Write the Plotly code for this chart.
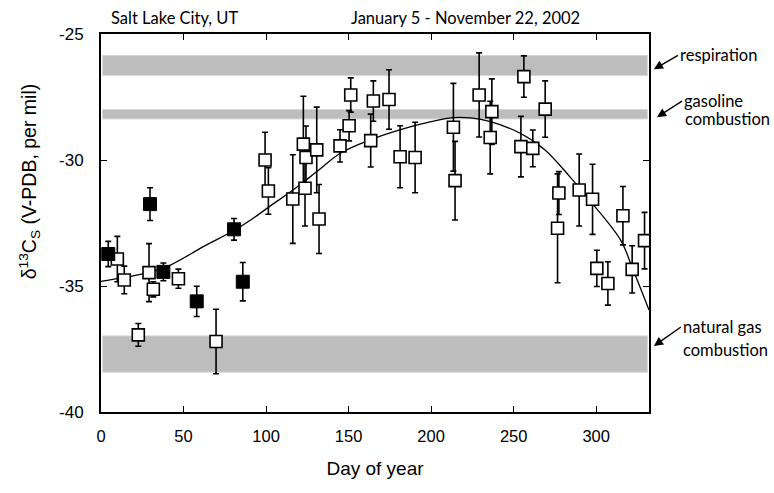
import plotly.graph_objects as go

# ---- data ----
# filled (black) squares
filled_day = [4.4, 29.7, 37.8, 58.0, 80.6, 85.9]
filled_val = [-33.73, -31.75, -34.44, -35.61, -32.75, -34.83]
filled_err = [0.5, 0.65, 0.35, 0.6, 0.43, 0.76]

# open squares
open_day = [9.9, 14.1, 22.6, 29.1, 31.7, 46.9, 69.7, 99.4, 101.4, 116.2,
            122.6, 124.2, 123.6, 130.7, 132.1, 144.8, 150.3, 151.3, 163.4, 165.0,
            174.5, 181.2, 190.3, 213.5, 214.5, 229.1, 236.8, 235.8, 256.2, 254.4,
            261.6, 269.1, 277.4, 276.6, 289.7, 297.8, 300.4, 307.1, 316.2, 321.8,
            329.3]
open_val = [-33.93, -34.76, -36.94, -34.47, -35.13, -34.71, -37.2, -30.0, -31.23, -31.55,
            -29.37, -29.9, -31.12, -29.6, -32.34, -29.44, -28.64, -27.42, -29.23, -27.66,
            -27.6, -29.87, -29.9, -28.7, -30.82, -27.42, -28.08, -29.11, -26.69, -29.47,
            -29.54, -27.98, -31.31, -32.71, -31.19, -31.56, -34.3, -34.9, -32.21, -34.34,
            -33.2]
open_err = [0.9, 0.55, 0.45, 1.15, 0.3, 0.38, 1.28, 1.1, 0.92, 1.76,
            1.9, 1.25, 1.5, 1.7, 1.37, 0.64, 0.6, 0.68, 1.05, 0.8,
            1.18, 1.23, 1.4, 1.74, 1.56, 1.67, 1.3, 1.44, 0.82, 1.2,
            0.73, 1.12, 0.85, 2.16, 1.43, 1.39, 0.72, 0.86, 1.16, 0.94,
            1.12]

# fitted seasonal curve
curve_day = [0, 15, 30, 42, 62, 81, 92, 102, 118.6, 130, 145, 163, 181, 200,
             213, 224, 236, 254, 269, 284, 298, 315, 322, 332]
curve_val = [-34.82, -34.65, -34.45, -34.17, -33.44, -32.78, -32.32, -31.85, -31.08,
             -30.5, -29.73, -29.2, -28.8, -28.48, -28.32, -28.33, -28.48, -28.94,
             -29.6, -30.66, -31.75, -33.2, -34.3, -35.95]

# source bands (low, high)
band_first_line = ["respiration", "gasoline", "natural gas"]
band_second_line = ["", "combustion", "combustion"]
band_low = [-26.65, -28.37, -38.42]
band_high = [-25.85, -28.0, -36.98]

x_ticks = [0, 50, 100, 150, 200, 250, 300]
y_ticks = [-25, -30, -35, -40]
y_ticktext = ["-25", "-30", "-35", "-40"]

AX_FONT = "Liberation Sans, Arial, sans-serif"
TXT_FONT = "Lato, Open Sans, sans-serif"

fig = go.Figure()

fig.add_trace(go.Scatter(x=curve_day, y=curve_val, mode="lines",
                         line=dict(color="black", width=1.3, shape="spline", smoothing=1.0),
                         hoverinfo="skip", showlegend=False))

fig.add_trace(go.Scatter(x=open_day, y=open_val, mode="markers",
                         error_y=dict(type="data", array=open_err, color="black",
                                      thickness=1.6, width=3),
                         marker=dict(symbol="square", size=12, color="white",
                                     line=dict(color="black", width=1.6)),
                         showlegend=False))

fig.add_trace(go.Scatter(x=filled_day, y=filled_val, mode="markers",
                         error_y=dict(type="data", array=filled_err, color="black",
                                      thickness=1.6, width=3),
                         marker=dict(symbol="square", size=13, color="black",
                                     line=dict(color="black", width=1)),
                         showlegend=False))

shapes = []
for lo, hi in zip(band_low, band_high):
    shapes.append(dict(type="rect", xref="paper", yref="y", x0=0.003, x1=0.997,
                       y0=lo, y1=hi, fillcolor="#bdbdbd",
                       line=dict(color="#d6d6d6", width=1), layer="below"))

TF = dict(family=TXT_FONT, size=16.5, color="black")
annotations = [
    dict(text="Salt Lake City, UT", xref="paper", yref="paper", x=0.014, y=1.0,
         xanchor="left", yanchor="bottom", yshift=4, showarrow=False,
         font=dict(family=TXT_FONT, size=16.5, color="black")),
    dict(text="January 5 - November 22, 2002", xref="paper", yref="paper", x=0.452, y=1.0,
         xanchor="left", yanchor="bottom", yshift=4, showarrow=False,
         font=dict(family=TXT_FONT, size=16.5, color="black")),
    # y-axis title
    dict(text="δ<sup>13</sup>C<sub>S</sub> (V-PDB, per mil)", xref="paper", yref="paper",
         x=-0.131, y=0.611, xanchor="center", yanchor="middle", textangle=-90,
         showarrow=False, font=dict(family=AX_FONT, size=19.5, color="black")),
]

# arrow heads (paper x, data y), tail offsets (px), second-line positions
head_x = [1.009, 1.0146, 1.009]
head_y = [-26.4, -28.30, -37.38]
tail_ax = [24, 25, 27]
tail_ay = [-14, -16, -19]
second_x = [1.0, 1.062, 1.058]
second_y = [0, -28.38, -37.54]
for t1, t2, hx, hy, ax, ay, sx, sy in zip(band_first_line, band_second_line, head_x, head_y,
                                          tail_ax, tail_ay, second_x, second_y):
    annotations.append(dict(text=t1, x=hx, y=hy, xref="paper", yref="y",
                            ax=ax, ay=ay, showarrow=True, arrowhead=2, arrowsize=1.3,
                            arrowwidth=1.4, arrowcolor="black", xanchor="left",
                            yanchor="middle", font=TF))
    if t2:
        annotations.append(dict(text=t2, x=sx, y=sy, xref="paper", yref="y",
                                xanchor="left", yanchor="middle", showarrow=False,
                                font=TF))

fig.update_layout(
    width=774, height=493,
    margin=dict(l=101, r=125, t=34, b=81),
    paper_bgcolor="white", plot_bgcolor="white",
    shapes=shapes, annotations=annotations,
    xaxis=dict(range=[0, 332], tickvals=x_ticks, ticks="inside", ticklen=6,
               tickwidth=1.3, tickcolor="black", showline=True, linewidth=2,
               linecolor="black", mirror="allticks", showgrid=False, zeroline=False,
               tickfont=dict(family=AX_FONT, size=16.5, color="black"),
               ticklabelstandoff=8,
               title=dict(text="Day of year", standoff=18,
                          font=dict(family=AX_FONT, size=19, color="black"))),
    yaxis=dict(range=[-40, -25], tickvals=y_ticks, ticktext=y_ticktext, ticks="inside",
               ticklen=6, tickwidth=1.3, tickcolor="black", showline=True, linewidth=2,
               linecolor="black", mirror="allticks", showgrid=False, zeroline=False,
               tickfont=dict(family=AX_FONT, size=17, color="black"),
               ticklabelstandoff=12),
)

fig.write_html("out.html")
